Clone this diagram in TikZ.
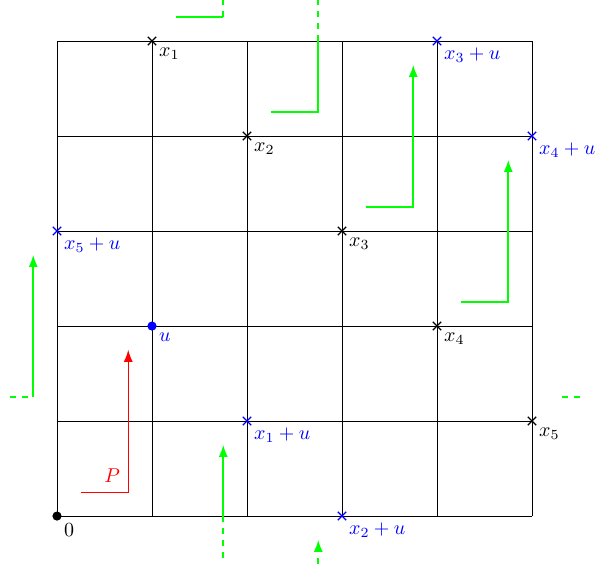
\documentclass[tikz,border=0pt]{standalone}
\usetikzlibrary{shapes.misc,arrows.meta}
\begin{document}
\begin{tikzpicture}[x=47.5pt,y=47.5pt,
  crossmark/.style={cross out,draw,minimum size=3.6pt,inner sep=0pt,line width=0.6pt},
  dotmark/.style={circle,fill,minimum size=4.6pt,inner sep=0pt},
  lab/.style={anchor=north west},
  pathP/.style={red,line width=0.6pt},
  pathG/.style={color={rgb,255:red,0;green,255;blue,0},line width=0.9pt},
  tip/.style={-{Latex[length=6pt,width=4.5pt]}}]
\useasboundingbox (-0.6,-0.558) rectangle (5.663,5.432);
\clip (-0.6,-0.558) rectangle (5.663,5.432);
% grid
\draw[line width=0.5pt] (0,0) grid[step=47.5pt] (5,5);
% red path P
\draw[pathP,tip] (0.25,0.25) -- (0.75,0.25) -- (0.75,1.75);
\node[red] (lP) at (0.58,0.43) {$P$};
% green translates
% x1 + P
\draw[pathG] (1.25,5.25) -- (1.75,5.25);
\draw[pathG,dashed] (1.75,5.25) -- (1.75,5.5);
\draw[pathG,dashed] (1.75,0) -- (1.75,-0.5);
\draw[pathG,tip] (1.75,0) -- (1.75,0.75);
% x2 + P
\draw[pathG] (2.25,4.25) -- (2.75,4.25) -- (2.75,5);
\draw[pathG,dashed] (2.75,5) -- (2.75,5.5);
\draw[pathG,dashed,tip] (2.75,-0.5) -- (2.75,-0.25);
% x3 + P
\draw[pathG,tip] (3.25,3.25) -- (3.75,3.25) -- (3.75,4.75);
% x4 + P
\draw[pathG,tip] (4.25,2.25) -- (4.75,2.25) -- (4.75,3.75);
% x5 + P
\draw[pathG,dashed] (5.5,1.25) -- (5.25,1.25);
\draw[pathG,dashed] (-0.5,1.25) -- (-0.25,1.25);
\draw[pathG,tip] (-0.25,1.25) -- (-0.25,2.75);
% points
\node[dotmark] (o) at (0,0) {};
\node[lab] (lo) at (o.center) {$0$};
\node[dotmark,blue] (u) at (1,2) {};
\node[lab,blue] (lu) at (u.center) {$u$};
\node[crossmark] (x1) at (1,5) {};
\node[crossmark] (x2) at (2,4) {};
\node[crossmark] (x3) at (3,3) {};
\node[crossmark] (x4) at (4,2) {};
\node[crossmark] (x5) at (5,1) {};
\node[lab] (lx1) at (x1.center) {$x_1$};
\node[lab] (lx2) at (x2.center) {$x_2$};
\node[lab] (lx3) at (x3.center) {$x_3$};
\node[lab] (lx4) at (x4.center) {$x_4$};
\node[lab] (lx5) at (x5.center) {$x_5$};
\node[crossmark,blue] (y1) at (2,1) {};
\node[crossmark,blue] (y2) at (3,0) {};
\node[crossmark,blue] (y3) at (4,5) {};
\node[crossmark,blue] (y4) at (5,4) {};
\node[crossmark,blue] (y5) at (0,3) {};
\node[lab,blue] (ly1) at (y1.center) {$x_1+u$};
\node[lab,blue] (ly2) at (y2.center) {$x_2+u$};
\node[lab,blue] (ly3) at (y3.center) {$x_3+u$};
\node[lab,blue] (ly4) at (y4.center) {$x_4+u$};
\node[lab,blue] (ly5) at (y5.center) {$x_5+u$};
\end{tikzpicture}
\end{document}
